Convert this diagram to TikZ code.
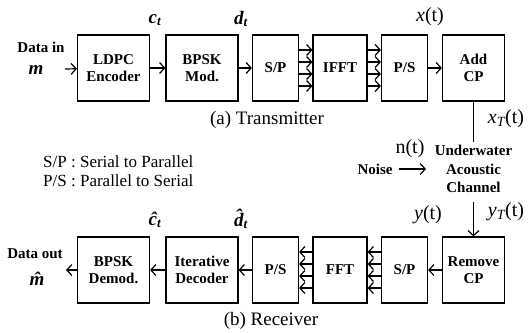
\documentclass[tikz,border=0pt]{standalone}
\usepackage{fontspec}
\setmainfont{Liberation Serif}
\newfontfamily\tnr{Liberation Serif}
\usepackage{tikz}
\usetikzlibrary{arrows,arrows.meta}
\usetikzlibrary{positioning}
\tikzset{
    blk/.style={draw=black, line width=1.2pt, minimum height=66pt, inner sep=0pt,
        align=center, font=\tnr\fontsize{15}{17}\selectfont\bfseries},
    lbl/.style={inner sep=1pt, font=\tnr\fontsize{15}{17}\selectfont\bfseries},
    sym/.style={inner sep=0pt, font=\tnr\fontsize{19}{19}\selectfont\bfseries\itshape},
    sig/.style={inner sep=0pt, font=\tnr\fontsize{20}{20}\selectfont},
    subcap/.style={inner sep=0pt, font=\tnr\fontsize{19}{19}\selectfont},
    flow/.style={-{Straight Barb[length=5pt,width=11pt]}, line width=1.2pt},
}

\begin{document}
\begin{tikzpicture}[x=1pt, y=-1pt]
	\useasboundingbox (0,0) rectangle (530,332);
	% transmitter
	\node[blk, minimum width=72pt] (enc) at (113.5,68) {LDPC\\Encoder};
	\node[blk, minimum width=72pt] (mod) at (202,68) {BPSK\\Mod.};
	\node[blk, minimum width=46pt] (sp) at (275.5,68) {S/P};
	\node[blk, minimum width=54pt] (ifft) at (340,68) {IFFT};
	\node[blk, minimum width=46pt] (ps) at (404.5,68) {P/S};
	\node[blk, minimum width=62pt] (addcp) at (473.5,68) {Add\\CP};
	\node[lbl] (din) at (41,47) {Data in};
	\node[sym] (m) at (36,70) {m};
	\coordinate (min) at (65,69);
	\draw[flow] (min) -- (enc);
	\draw[flow] (enc) -- (mod);
	\draw[flow] (mod) -- (sp);
	\foreach \dy in {-18,-6,6,18}{
		\draw[flow] ([yshift=\dy pt]sp.east) -- ([yshift=\dy pt]ifft.west);
		\draw[flow] ([yshift=\dy pt]ifft.east) -- ([yshift=\dy pt]ps.west);
	}
	\draw[flow] (ps) -- (addcp);
	\node[sym] (ct) at (155,20) {c\textsubscript{t}};
	\node[sym] (dt) at (241,19) {d\textsubscript{t}};
	\node[sig] (xt) at (430,17) {\textit{x}(t)};
	\node[subcap] (tx) at (267,120) {(a) Transmitter};
	% channel
	\coordinate (chtop) at (473.5,142);
	\coordinate (chbot) at (473.5,202);
	\draw[line width=1.2pt] (addcp) -- (chtop);
	\node[lbl, align=center, font=\tnr\fontsize{15}{18.5}\selectfont\bfseries] (chan) at (473.5,169) {Underwater\\Acoustic\\Channel};
	\node[sig] (xT) at (506,119) {\textit{x\textsubscript{T}}(t)};
	\node[sig] (nt) at (410,149) {n(t)};
	\node[lbl] (noise) at (375,169) {Noise};
	\coordinate (nend) at (426,169);
	\draw[flow, shorten <=5pt] (noise) -- (nend);
	\node[inner sep=0pt, align=left, anchor=west, font=\tnr\fontsize{17}{19}\selectfont] (legend) at (43,171) {S/P : Serial to Parallel\\P/S : Parallel to Serial};
	% receiver
	\node[blk, minimum width=72pt] (dem) at (113.5,270) {BPSK\\Demod.};
	\node[blk, minimum width=72pt] (dec) at (202,270) {Iterative\\Decoder};
	\node[blk, minimum width=46pt] (ps2) at (275.5,270) {P/S};
	\node[blk, minimum width=54pt] (fft) at (340,270) {FFT};
	\node[blk, minimum width=46pt] (sp2) at (404.5,270) {S/P};
	\node[blk, minimum width=62pt] (rmcp) at (473.5,270) {Remove\\CP};
	\draw[flow] (chbot) -- (rmcp);
	\node[sig] (yT) at (506,212) {\textit{y\textsubscript{T}}(t)};
	\node[sig] (yt) at (428,215) {\textit{y}(t)};
	\draw[flow] (rmcp) -- (sp2);
	\foreach \dy in {-18,-6,6,18}{
		\draw[flow] ([yshift=\dy pt]sp2.west) -- ([yshift=\dy pt]fft.east);
		\draw[flow] ([yshift=\dy pt]fft.west) -- ([yshift=\dy pt]ps2.east);
	}
	\draw[flow] (ps2) -- (dec);
	\draw[flow] (dec) -- (dem);
	\coordinate (mout) at (66,270);
	\draw[flow] (dem) -- (mout);
	\node[lbl] (dout) at (35,254) {Data out};
	\node[sym] (mh) at (37,279) {\^{m}};
	\node[sym] (cth) at (155,220) {\^{c}\textsubscript{t}};
	\node[sym] (dth) at (241,219) {\^{d}\textsubscript{t}};
	\node[subcap] (rx) at (271,321) {(b) Receiver};
\end{tikzpicture}
\end{document}
